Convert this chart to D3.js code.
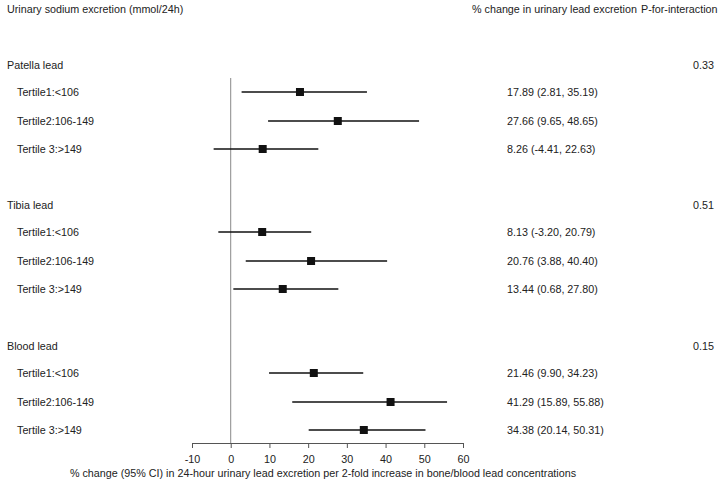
<!DOCTYPE html>
<html><head><meta charset="utf-8">
<script src="https://cdn.jsdelivr.net/npm/d3@7"></script>
<style>body{margin:0;background:#fff}text{font-family:"Liberation Sans",Arial,sans-serif;font-size:10.75px;fill:#222}</style>
</head><body><svg id="c" width="723" height="485"></svg>
<script>
const groups = ["Patella lead", "Tibia lead", "Blood lead"];
const pInteraction = ["0.33", "0.51", "0.15"];
const tertiles = ["Tertile1:<106", "Tertile2:106-149", "Tertile 3:>149"];
const estimates = [17.89, 27.66, 8.26, 8.13, 20.76, 13.44, 21.46, 41.29, 34.38];
const lower = [2.81, 9.65, -4.41, -3.20, 3.88, 0.68, 9.90, 15.89, 20.14];
const upper = [35.19, 48.65, 22.63, 20.79, 40.40, 27.80, 34.23, 55.88, 50.31];
const ticks = [-10, 0, 10, 20, 30, 40, 50, 60];

const svg = d3.select("#c");
const x = d3.scaleLinear().domain([-10, 60]).range([192, 463]);
const groupY = [65, 205, 346];
const step = 28;

svg.append("text").attr("x", 7).attr("y", 13).text("Urinary sodium excretion (mmol/24h)");
svg.append("text").attr("x", 472).attr("y", 13).text("% change in urinary lead excretion");
svg.append("text").attr("x", 641).attr("y", 13).text("P-for-interaction");

// reference line at zero
svg.append("line").attr("x1", x(0)).attr("x2", x(0)).attr("y1", 78).attr("y2", 443)
  .attr("stroke", "#888").attr("stroke-width", 1);

groups.forEach((g, gi) => {
  const gy = groupY[gi];
  svg.append("text").attr("x", 7).attr("y", gy + 4).text(g);
  svg.append("text").attr("x", 693).attr("y", gy + 4).text(pInteraction[gi]);
  tertiles.forEach((t, ti) => {
    const i = gi * 3 + ti;
    const y = gy + step * (ti + 1) - (ti === 0 ? 1 : 0);
    svg.append("text").attr("x", 17).attr("y", y + 4).text(t);
    svg.append("line").attr("x1", x(lower[i])).attr("x2", x(upper[i])).attr("y1", y).attr("y2", y)
      .attr("stroke", "#111").attr("stroke-width", 1.5);
    svg.append("rect").attr("x", x(estimates[i]) - 4).attr("y", y - 4).attr("width", 8).attr("height", 8).attr("fill", "#111");
    svg.append("text").attr("x", 507).attr("y", y + 4)
      .text(`${estimates[i].toFixed(2)} (${lower[i].toFixed(2)}, ${upper[i].toFixed(2)})`);
  });
});

const axis = d3.axisBottom(x).tickValues(ticks).tickFormat(d => String(d))
  .tickSize(5).tickSizeOuter(0).tickPadding(7);
const ag = svg.append("g").attr("transform", "translate(0,443)").call(axis);
ag.select(".domain").attr("stroke", "#555");
ag.selectAll(".tick line").attr("stroke", "#555");
ag.selectAll(".tick text").style("font-family", "Liberation Sans, Arial, sans-serif").style("font-size", "10.75px").attr("fill", "#222");
svg.append("text").attr("x", 323).attr("y", 477).attr("text-anchor", "middle")
  .text("% change (95% CI) in 24-hour urinary lead excretion per 2-fold increase in bone/blood lead concentrations");
</script></body></html>
